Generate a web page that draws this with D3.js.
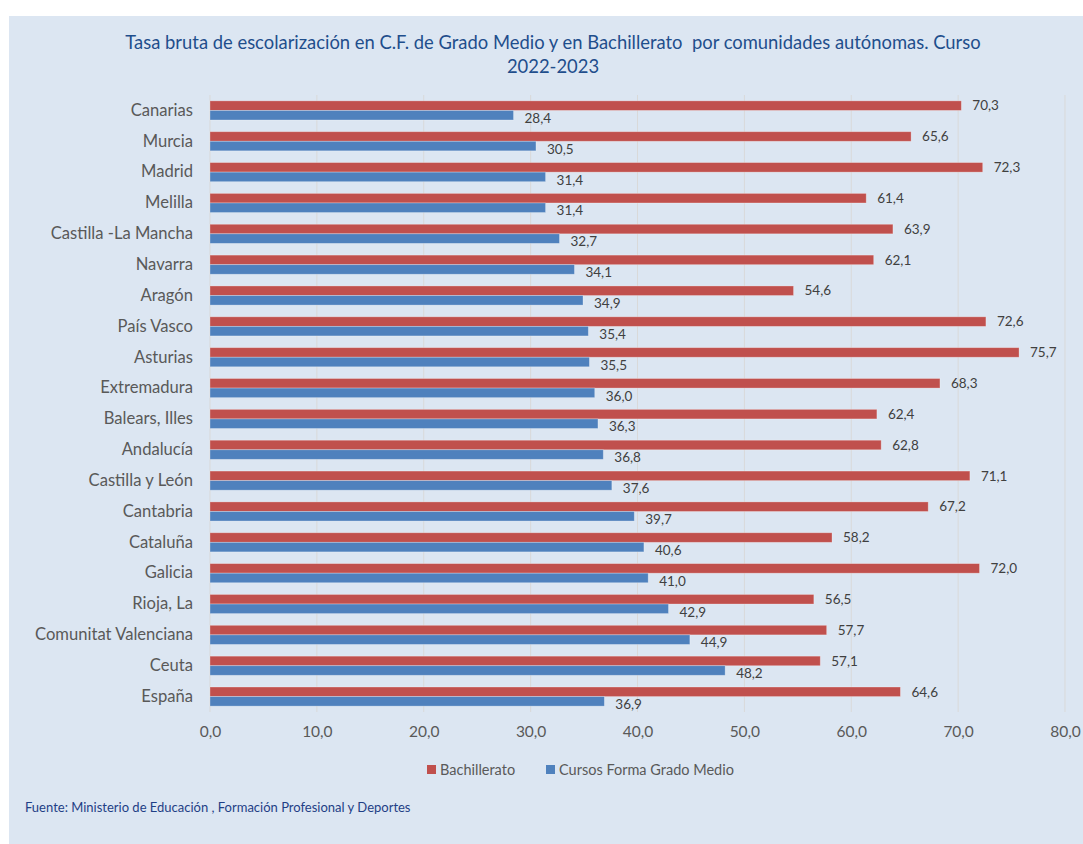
<!DOCTYPE html>
<html><head><meta charset="utf-8">
<script src="https://cdn.jsdelivr.net/npm/d3@7"></script>
<style>
html,body{margin:0;padding:0;background:#fff;}
svg{display:block;}
text{font-family:Lato,"Open Sans",sans-serif;}
</style></head>
<body><svg id="c" width="1083" height="844"></svg>
<script>
const categories = ["Canarias","Murcia","Madrid","Melilla","Castilla -La Mancha","Navarra","Aragón","País Vasco","Asturias","Extremadura","Balears, Illes","Andalucía","Castilla y León","Cantabria","Cataluña","Galicia","Rioja, La","Comunitat Valenciana","Ceuta","España"];
const bachillerato = [70.3,65.6,72.3,61.4,63.9,62.1,54.6,72.6,75.7,68.3,62.4,62.8,71.1,67.2,58.2,72.0,56.5,57.7,57.1,64.6];
const gradoMedio = [28.4,30.5,31.4,31.4,32.7,34.1,34.9,35.4,35.5,36.0,36.3,36.8,37.6,39.7,40.6,41.0,42.9,44.9,48.2,36.9];
const seriesNames = ["Bachillerato","Cursos Forma Grado Medio"];
const xTicks = [0,10,20,30,40,50,60,70,80];
const titleLines = ["Tasa bruta de escolarización en C.F. de Grado Medio y en Bachillerato  por comunidades autónomas. Curso","2022-2023"];
const source = "Fuente: Ministerio de Educación , Formación Profesional y Deportes";

const colors = ["#C0504D","#4F81BD"];
const fmt = v => v.toFixed(1).replace(".", ",");
const svg = d3.select("#c");

svg.append("rect").attr("x",9).attr("y",16).attr("width",1083-9).attr("height",844-16).attr("fill","#DCE6F2");

const x = d3.scaleLinear().domain([0,80]).range([210,1065]);
const y = d3.scaleBand().domain(categories).range([95,712]).paddingInner(0.38).paddingOuter(0.19);
const sub = d3.scaleBand().domain([0,1]).range([0,y.bandwidth()]);

// title
svg.append("g").selectAll("text").data(titleLines).join("text")
  .attr("x",553).attr("y",(d,i)=>49+i*24).attr("text-anchor","middle")
  .style("white-space","pre")
  .attr("fill","#1F4E8C").attr("font-size",18.4).text(d=>d);

// grid
svg.append("g").selectAll("line").data(xTicks).join("line")
  .attr("x1",d=>x(d)).attr("x2",d=>x(d)).attr("y1",95).attr("y2",712)
  .attr("stroke","#D9D9D9").attr("stroke-width",1);

// x axis
const xa = svg.append("g").attr("transform","translate(0,712)")
  .call(d3.axisBottom(x).tickValues(xTicks).tickFormat(fmt).tickSize(0).tickPadding(14));
xa.select(".domain").remove();
xa.selectAll("text").attr("fill","#595959").attr("font-size",15.5).attr("font-family","Lato,sans-serif");

// y axis
const ya = svg.append("g").attr("transform","translate(210,0)")
  .call(d3.axisLeft(y).tickSize(0).tickPadding(17));
ya.select(".domain").remove();
ya.selectAll("text").attr("fill","#595959").attr("font-size",16.6).attr("font-family","Lato,sans-serif");

// bars
const rows = categories.map((c,i)=>({c, vals:[bachillerato[i], gradoMedio[i]]}));
const g = svg.append("g").selectAll("g").data(rows).join("g")
  .attr("transform",d=>`translate(0,${y(d.c)})`);
g.selectAll("rect").data(d=>d.vals.map((v,k)=>({v,k}))).join("rect")
  .attr("x",x(0)).attr("y",d=>sub(d.k)).attr("width",d=>x(d.v)-x(0)).attr("height",sub.bandwidth())
  .attr("fill",d=>colors[d.k]).attr("stroke","#ffffff").attr("stroke-opacity",0.35).attr("stroke-width",0.8);
g.selectAll("text").data(d=>d.vals.map((v,k)=>({v,k}))).join("text")
  .attr("x",d=>x(d.v)+11).attr("y",d=>sub(d.k)+sub.bandwidth()/2 + (d.k===0?0:3))
  .attr("dy","0.35em").attr("fill","#404040").attr("font-size",13.5).text(d=>fmt(d.v));

// legend
const lg = svg.append("g").attr("transform","translate(427,770)");
const li = lg.selectAll("g").data(seriesNames).join("g").attr("transform",(d,i)=>`translate(${i*119},0)`);
li.append("rect").attr("x",0).attr("y",-5).attr("width",9).attr("height",9).attr("fill",(d,i)=>colors[i]);
li.append("text").attr("x",13).attr("y",0).attr("dy","0.35em").attr("fill","#595959").attr("font-size",14.5).text(d=>d);

svg.append("text").attr("x",25).attr("y",807).attr("dy","0.35em").attr("fill","#1F3F86").attr("font-size",13).text(source);
</script></body></html>
